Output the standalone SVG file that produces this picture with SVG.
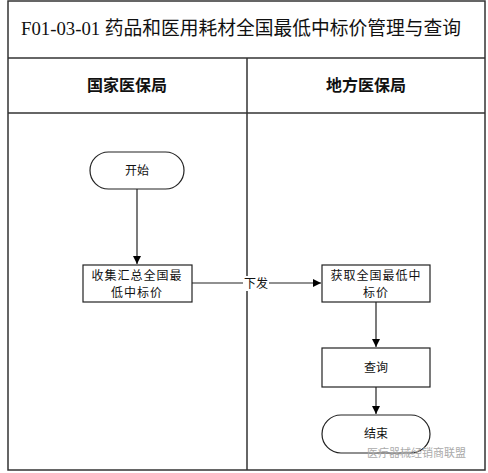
<svg xmlns="http://www.w3.org/2000/svg" width="488" height="473" viewBox="0 0 488 473">
<defs>
<marker id="ah" markerWidth="10" markerHeight="10" refX="9" refY="5" orient="auto" markerUnits="userSpaceOnUse">
<path d="M1,1 L9,5 L1,9 Z" fill="#000"/>
</marker>
<style>
.frame{fill:#fff;stroke:#333;stroke-width:1.5}
.node{fill:#fff;stroke:#222;stroke-width:1.2}
.t{font-family:"Noto Sans CJK SC","Liberation Sans",sans-serif;font-size:12px;fill:#111;text-anchor:middle}
.h{font-family:"Noto Sans CJK SC","Liberation Sans",sans-serif;font-size:16px;font-weight:bold;fill:#111;text-anchor:middle}
.title{font-family:"Liberation Serif","Noto Sans CJK SC",serif;font-size:19px;fill:#111}
.c{stroke:#222;stroke-width:1.2;fill:none}
</style>
</defs>
<rect x="0" y="0" width="488" height="473" fill="#fff"/>
<g id="frame">
<rect class="frame" x="8" y="1" width="477" height="469"/>
<line class="frame" x1="8" y1="58" x2="485" y2="58"/>
<line class="frame" x1="8" y1="113" x2="485" y2="113"/>
<line class="frame" x1="247" y1="58" x2="247" y2="470"/>
<text class="title" x="21" y="35" textLength="440" lengthAdjust="spacingAndGlyphs">F01-03-01  药品和医用耗材全国最低中标价管理与查询</text>
<text class="h" x="127" y="91">国家医保局</text>
<text class="h" x="366" y="91">地方医保局</text>
</g>
<g id="connectors">
<line class="c" x1="137" y1="189" x2="137" y2="264" marker-end="url(#ah)"/>
<line class="c" x1="192" y1="283" x2="321" y2="283" marker-end="url(#ah)"/>
<rect x="243" y="276" width="26" height="15" fill="#fff"/>
<text class="t" x="256" y="288">下发</text>
<line class="c" x1="376" y1="302" x2="376" y2="347" marker-end="url(#ah)"/>
<line class="c" x1="376" y1="387" x2="376" y2="414" marker-end="url(#ah)"/>
</g>
<g id="start">
<rect class="node" x="90" y="152" width="94" height="37" rx="18.5"/>
<text class="t" x="137" y="175">开始</text>
</g>
<g id="collect">
<rect class="node" x="83" y="265" width="109" height="37"/>
<text class="t" x="137" y="280" letter-spacing="1">收集汇总全国最</text>
<text class="t" x="137" y="297" letter-spacing="1">低中标价</text>
</g>
<g id="obtain">
<rect class="node" x="322" y="265" width="108" height="37"/>
<text class="t" x="376" y="280" letter-spacing="1">获取全国最低中</text>
<text class="t" x="376" y="297" letter-spacing="1">标价</text>
</g>
<g id="query">
<rect class="node" x="322" y="348" width="108" height="39"/>
<text class="t" x="376" y="372">查询</text>
</g>
<g id="end">
<rect class="node" x="322" y="415" width="108" height="38" rx="19"/>
<text class="t" x="376" y="438">结束</text>
</g>
<text x="367" y="457" font-family="Noto Sans CJK SC,sans-serif" font-size="11" fill="#aaa">医疗器械经销商联盟</text>
</svg>
